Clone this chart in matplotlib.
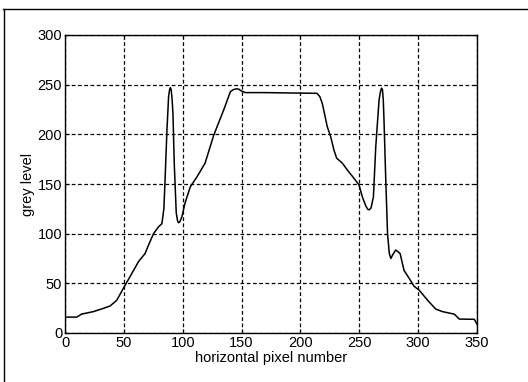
import matplotlib
matplotlib.use("Agg")
import matplotlib.pyplot as plt
from matplotlib.lines import Line2D

# profile data
pixel = [0, 10, 14, 24, 32.6, 38.3, 44, 51, 56.8, 62.4, 68, 71, 75.2, 79.5, 82.3,
         84, 85, 86.6, 88, 88.8, 89.5, 90.2, 91, 91.7, 92.8, 94.5, 95.6, 96.5,
         97.6, 99.3, 102, 106.4, 112, 119,
         126.3, 134.8, 140.5, 143, 145.5, 147.6, 150, 153.3, 170, 200, 214, 216.5,
         218.6, 222.8, 225.7,
         228.5, 230.8, 235.6, 239.9, 245.5, 249.8, 252.6, 255.5, 257.2, 258.5, 260,
         262, 264, 266.8, 268, 268.9, 269.7, 270.4, 271, 272.5, 274, 275.5, 276.8,
         278.5, 281, 284.7, 288, 292.4, 296.6, 301,
         308, 315, 320.8, 330.7, 335, 347.7, 350]
grey = [16, 16, 19, 21.5, 24.8, 27.2, 33, 48, 60, 71.8, 80, 88.6, 100, 107, 110,
        125, 154, 204, 238, 244.5, 247, 245, 235, 221, 171, 121, 113, 111,
        112, 117, 131, 147, 157, 171,
        199, 224.5, 243, 245, 245.8, 245.5, 243.5, 242, 242, 241.5, 241.3, 238,
        231, 207.7, 197.6,
        184, 176, 171, 164, 155.7, 149, 137, 128, 124.5, 124, 126,
        137, 187.6, 234.6, 243, 246.5, 245, 234, 214, 154, 100, 80, 75,
        79, 83.6, 80, 63, 55, 47, 43,
        33, 24, 21.5, 19, 14, 13.8, 9]

xticks = [0, 50, 100, 150, 200, 250, 300, 350]
yticks = [0, 50, 100, 150, 200, 250, 300]

plt.rcParams['font.family'] = ['Liberation Sans', 'DejaVu Sans']

fig = plt.figure(figsize=(5.28, 3.82), dpi=100)
ax = fig.add_axes([65/528, 1 - 333/382, (477-65)/528, (333-35)/382])

ax.plot(pixel, grey, color='black', linewidth=1.1)
ax.set_xlim(0, 350)
ax.set_ylim(0, 300)
ax.set_xticks(xticks)
ax.set_yticks(yticks)
ax.tick_params(direction='in', length=3, width=0.8, labelsize=10.5, pad=2,
               top=True, right=True)
ax.grid(True, color='black', linestyle=(0, (3, 2)), linewidth=0.9)
for s in ax.spines.values():
    s.set_linewidth(1.0)
ax.set_xlabel('horizontal pixel number', fontsize=10.5, labelpad=1)
ax.set_ylabel('grey level', fontsize=10.5, labelpad=2)

# outer border of the scanned figure
fig.add_artist(Line2D([3/528, 1], [1 - 9/382, 1 - 9/382], color='black', linewidth=1.0))
fig.add_artist(Line2D([4/528, 4/528], [0, 1 - 9/382], color='black', linewidth=1.0))

fig.savefig('out.png', dpi=100)
